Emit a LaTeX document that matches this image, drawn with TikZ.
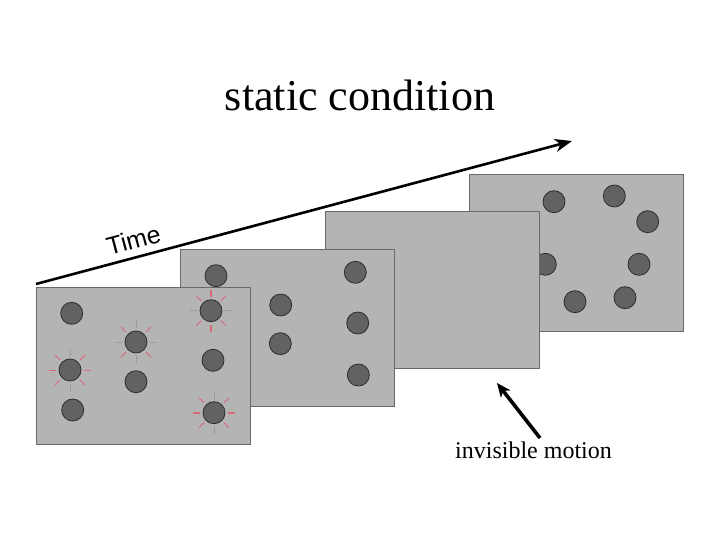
\documentclass[tikz,border=0pt]{standalone}
\usepackage{fontspec}
\setmainfont{Liberation Serif}
\newfontfamily\arialfont{Liberation Sans}
\usetikzlibrary{arrows.meta,calc}
\definecolor{panelgray}{HTML}{B4B4B4}
\definecolor{paneledge}{HTML}{6A6A6A}
\definecolor{dotgray}{HTML}{626262}
\definecolor{dotedge}{HTML}{2E2E2E}
\definecolor{rayred}{HTML}{D86A78}
\definecolor{raygray}{HTML}{9A9A9A}
\tikzset{
  panel/.style={draw=paneledge, line width=1.2pt, fill=panelgray, rectangle, anchor=north west, minimum width=214pt, minimum height=157pt, inner sep=0pt},
  dot/.style={circle, fill=dotgray, draw=dotedge, line width=0.8pt, minimum size=22pt, inner sep=0pt},
  rayR/.style={draw=rayred, line width=0.8pt},
  rayRt/.style={draw=rayred, line width=1.8pt},
  rayG/.style={draw=raygray, line width=0.7pt},
  timearrow/.style={line width=2.6pt, -{Stealth[length=17pt,width=13pt,inset=5pt]}},
  motionarrow/.style={line width=3.6pt, -{Stealth[length=14pt,width=12pt,inset=4pt]}},
}
\begin{document}
\begin{tikzpicture}[x=1pt,y=-1pt]
\useasboundingbox (0,0) rectangle (720,540);
% title
\node[anchor=base, font=\fontsize{44}{48}\selectfont, inner sep=0pt] (title) at (360,111) {static condition};
% time arrow
\coordinate (tstart) at (36,284);
\coordinate (tend) at (572,141);
\draw[timearrow] (tstart) -- (tend);
\node[font=\arialfont\fontsize{25}{28}\selectfont, rotate=15, inner sep=0pt] (time) at (133.5,240) {Time};
% panel 4 (back)
\node[panel] (p4) at (469,174) {};
\foreach \x/\y [count=\i] in {554/201.7, 614.3/196, 647.7/221.7, 545.3/264.3, 639/264.3, 575/301.7, 625/297.7}
  \node[dot] (d4\i) at (\x,\y) {};
% panel 3
\node[panel] (p3) at (325,211) {};
% panel 2
\node[panel] (p2) at (180,249) {};
\foreach \x/\y [count=\i] in {216/275.7, 280.7/305, 280.3/343.7, 355.3/272.3, 357.7/323, 358.3/375}
  \node[dot] (d2\i) at (\x,\y) {};
% panel 1 (front)
\node[panel] (p1) at (36,287) {};
\foreach \x/\y [count=\i] in {71.7/313.3, 136/342, 70/370, 136/381.7, 72.7/410, 211/310.7, 213/360.3, 214/412.7}
  \node[dot] (d1\i) at (\x,\y) {};
% flashes: diagonals
\foreach \n in {d12,d13,d16,d18}
  \foreach \a in {45,135,225,315}
    \draw[rayR] ($(\n.center)+(\a:14)$) -- ($(\n.center)+(\a:21)$);
% flash d12: cardinals gray
\foreach \a in {0,90,180,270}
  \draw[rayG] ($(d12.center)+(\a:14)$) -- ($(d12.center)+(\a:21)$);
% flash d13: left/right red, top/bottom gray
\foreach \a in {0,180}
  \draw[rayR] ($(d13.center)+(\a:14)$) -- ($(d13.center)+(\a:21)$);
\foreach \a in {90,270}
  \draw[rayG] ($(d13.center)+(\a:14)$) -- ($(d13.center)+(\a:21)$);
% flash d16: top/bottom thick red, left/right gray
\foreach \a in {90,270}
  \draw[rayRt] ($(d16.center)+(\a:14)$) -- ($(d16.center)+(\a:21)$);
\foreach \a in {0,180}
  \draw[rayG] ($(d16.center)+(\a:14)$) -- ($(d16.center)+(\a:21)$);
% flash d18: left/right red, top/bottom gray
\foreach \a in {0,180}
  \draw[rayRt] ($(d18.center)+(\a:14)$) -- ($(d18.center)+(\a:21)$);
\foreach \a in {90,270}
  \draw[rayG] ($(d18.center)+(\a:14)$) -- ($(d18.center)+(\a:21)$);
% invisible motion
\node[anchor=base, font=\fontsize{24}{28}\selectfont, inner sep=0pt] (motion) at (533.5,458) {invisible motion};
\coordinate (mtail) at (540,438);
\coordinate (mtip) at (497,383);
\draw[motionarrow] (mtail) -- (mtip);
\end{tikzpicture}
\end{document}
